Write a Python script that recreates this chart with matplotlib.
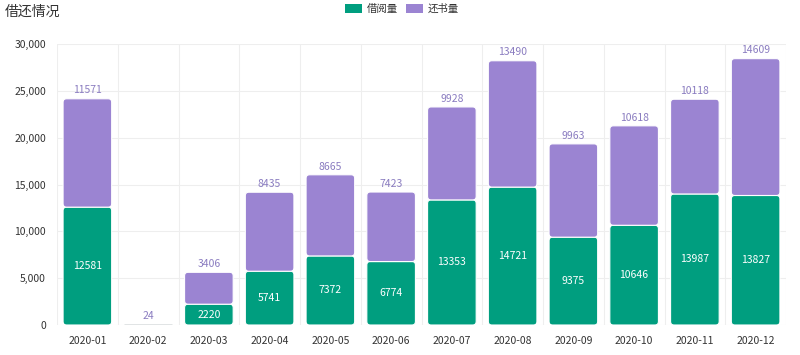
import matplotlib
matplotlib.use("Agg")
import matplotlib.pyplot as plt
from matplotlib.patches import FancyBboxPatch, Patch
from matplotlib.ticker import FuncFormatter, MultipleLocator

plt.rcParams['font.family'] = ['Noto Sans CJK SC', 'DejaVu Sans']

months = ['2020-01', '2020-02', '2020-03', '2020-04', '2020-05', '2020-06',
          '2020-07', '2020-08', '2020-09', '2020-10', '2020-11', '2020-12']
borrow = [12581, 0, 2220, 5741, 7372, 6774, 13353, 14721, 9375, 10646, 13987, 13827]
returned = [11571, 24, 3406, 8435, 8665, 7423, 9928, 13490, 9963, 10618, 10118, 14609]

GREEN = '#009e7f'
PURPLE = '#9b84d2'

fig = plt.figure(figsize=(8, 3.55), dpi=100)
ax = fig.add_axes([57/800, 1-325/355, (786-57)/800, (325-44)/355])

x = list(range(len(months)))
b1 = ax.bar(x, borrow, width=0.8, color=GREEN)
b2 = ax.bar(x, returned, width=0.8, bottom=borrow, color=PURPLE)

ax.set_xlim(-0.5, len(months) - 0.5)
ax.set_ylim(0, 30000)

# rounded bars
fig.canvas.draw()
px_per_x = ax.bbox.width / (len(months))
px_per_y = ax.bbox.height / 30000
aspect = px_per_x / px_per_y  # y-units per x-unit
r = 3.5 / px_per_x
for bars in (b1, b2):
    for p in bars:
        xx, yy = p.get_x(), p.get_y()
        w, h = p.get_width(), p.get_height()
        fc = p.get_facecolor()
        p.remove()
        if h <= 0:
            continue
        if h * px_per_y < 3:
            ax.plot([xx, xx + w], [yy + h / 2, yy + h / 2], color='#6e7a80',
                    linewidth=1.0, solid_capstyle='butt', zorder=3)
            continue
        rr = min(r, h / aspect / 2)
        fb = FancyBboxPatch((xx, yy), w, h,
                            boxstyle=f"round,pad=0,rounding_size={rr}",
                            mutation_aspect=aspect, facecolor=fc,
                            edgecolor='white', linewidth=0.8, zorder=3)
        ax.add_patch(fb)

# labels
for i in x:
    if borrow[i] > 0:
        ax.text(i, borrow[i] / 2, str(borrow[i]), ha='center', va='center',
                color='white', fontsize=7.5, zorder=4)
    ax.text(i, borrow[i] + returned[i] + 350, str(returned[i]), ha='center',
            va='bottom', color='#8a7cc0', fontsize=7.5, zorder=4)

ax.set_xticks(x)
ax.set_xticklabels(months)
ax.yaxis.set_major_locator(MultipleLocator(5000))
ax.yaxis.set_major_formatter(FuncFormatter(lambda v, p: f'{int(v):,}'))
ax.tick_params(axis='both', length=0, labelsize=7.5, colors='#333333')
ax.tick_params(axis='x', pad=8)
ax.tick_params(axis='y', pad=8)

for i in range(len(months) + 1):
    ax.axvline(i - 0.5, color='#eeeeee', linewidth=0.8, zorder=0)
ax.yaxis.grid(True, color='#eeeeee', linewidth=0.8, zorder=0)
ax.set_axisbelow(True)
for s in ax.spines.values():
    s.set_visible(False)

fig.text(5/800, 1-12/355, '借还情况', fontsize=10, color='#333333', va='center', ha='left')

handles = [Patch(facecolor=GREEN, label='借阅量'), Patch(facecolor=PURPLE, label='还书量')]
fig.legend(handles=handles, loc='center', bbox_to_anchor=(402/800, 1-9/355), ncol=2,
           frameon=False, fontsize=7.5, handlelength=1.6, handleheight=1.0,
           columnspacing=0.8, handletextpad=0.5, labelcolor='#333333')

fig.savefig('out.png', dpi=100)
